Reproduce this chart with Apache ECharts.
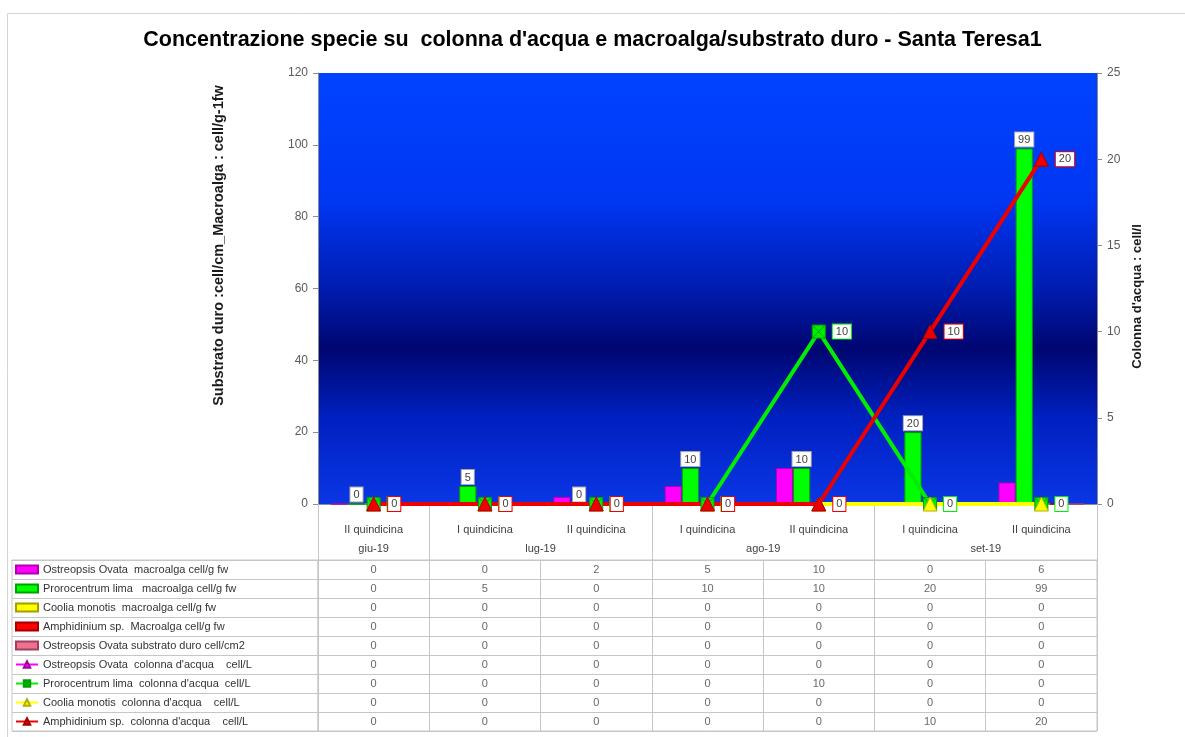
<!DOCTYPE html>
<html>
<head>
<meta charset="utf-8">
<title>Concentrazione specie - Santa Teresa1</title>
<script src="https://cdn.jsdelivr.net/npm/echarts@6.0.0/dist/echarts.min.js"></script>
<style>
  html, body { margin: 0; padding: 0; background: #fff; }
  #chart { width: 1185px; height: 737px; }
</style>
</head>
<body>
<div id="chart"></div>
<script>
// categorie (quindicine) e mesi
var periodi = ['II quindicina', 'I quindicina', 'II quindicina', 'I quindicina', 'II quindicina', 'I quindicina', 'II quindicina'];
var mesi = ['giu-19', 'lug-19', 'ago-19', 'set-19'];
var mesiSpan = [1, 2, 2, 2];

// nomi delle serie (righe della tabella)
var nomi = [
  'Ostreopsis Ovata  macroalga cell/g fw',
  'Prorocentrum lima   macroalga cell/g fw',
  'Coolia monotis  macroalga cell/g fw',
  'Amphidinium sp.  Macroalga cell/g fw',
  'Ostreopsis Ovata substrato duro cell/cm2',
  'Ostreopsis Ovata  colonna d\'acqua    cell/L',
  'Prorocentrum lima  colonna d\'acqua  cell/L',
  'Coolia monotis  colonna d\'acqua    cell/L',
  'Amphidinium sp.  colonna d\'acqua    cell/L'
];

// macroalga / substrato duro (asse sinistro)
var ostreopsisMacro = [0, 0, 2, 5, 10, 0, 6];
var prorocentrumMacro = [0, 5, 0, 10, 10, 20, 99];
var cooliaMacro = [0, 0, 0, 0, 0, 0, 0];
var amphidiniumMacro = [0, 0, 0, 0, 0, 0, 0];
var ostreopsisSubstrato = [0, 0, 0, 0, 0, 0, 0];

// colonna d'acqua (asse destro)
var ostreopsisColonna = [0, 0, 0, 0, 0, 0, 0];
var prorocentrumColonna = [0, 0, 0, 0, 10, 0, 0];
var cooliaColonna = [0, 0, 0, 0, 0, 0, 0];
var amphidiniumColonna = [0, 0, 0, 0, 0, 10, 20];

var righe = [ostreopsisMacro, prorocentrumMacro, cooliaMacro, amphidiniumMacro, ostreopsisSubstrato,
  ostreopsisColonna, prorocentrumColonna, cooliaColonna, amphidiniumColonna];

var font = 'Liberation Sans';
var grigio = '#c6c6c6';

// posizioni dei mesi sull'asse
var confini = [0], centri = [], acc = 0;
mesiSpan.forEach(function (s) { centri.push(acc + s / 2); acc += s; confini.push(acc); });

// celle della tabella
var celle = [];
righe.forEach(function (r, ri) {
  r.forEach(function (v, ci) { celle.push([ci, ri, v]); });
});

var chart = echarts.init(document.getElementById('chart'));

function barre(i, colore, bordo, etichette) {
  return {
    name: nomi[i], type: 'bar', xAxisIndex: 0, yAxisIndex: 0,
    data: righe[i], barGap: '0%', barCategoryGap: '23%',
    itemStyle: { color: colore, borderColor: bordo, borderWidth: 1 },
    label: etichette ? {
      show: true, position: 'top', distance: 2, color: '#404040', fontSize: 11, fontFamily: font,
      backgroundColor: '#fff', borderColor: '#a6a6a6', borderWidth: 1, padding: [2, 3, 1, 3]
    } : { show: false }
  };
}

function linea(i, colore, simbolo, size, bordo, etichette) {
  return {
    name: nomi[i], type: 'line', xAxisIndex: 0, yAxisIndex: 1,
    data: righe[i], symbol: simbolo, symbolSize: size,
    lineStyle: { color: colore, width: 4 },
    itemStyle: { color: colore, borderColor: bordo, borderWidth: 1 },
    label: etichette ? {
      show: true, position: 'right', distance: 7, color: '#404040', fontSize: 11, fontFamily: font,
      backgroundColor: '#fff', borderColor: colore, borderWidth: 1, padding: [2, 3, 1, 3]
    } : { show: false }
  };
}

var option = {
  animation: false,
  backgroundColor: '#fff',
  title: {
    text: 'Concentrazione specie su  colonna d\'acqua e macroalga/substrato duro - Santa Teresa1',
    left: 'center', top: 24,
    textStyle: { fontFamily: font, fontSize: 21.5, fontWeight: 'bold', color: '#000' }
  },
  graphic: [{
    type: 'rect', shape: { x: 7.5, y: 13.5, width: 1200, height: 800 },
    style: { fill: 'none', stroke: '#d4d4d4', lineWidth: 1 }, silent: true
  }],
  legend: {
    orient: 'vertical', left: 15, top: 560, padding: 0,
    itemWidth: 22, itemHeight: 8, itemGap: 0, selectedMode: false,
    textStyle: { fontFamily: font, fontSize: 11, color: '#333', lineHeight: 19 },
    data: nomi.map(function (n, i) { return i < 5 ? { name: n, icon: 'rect' } : n; })
  },
  grid: [
    {
      left: 318, right: 88, top: 73, height: 431, show: true, borderWidth: 0,
      backgroundColor: new echarts.graphic.LinearGradient(0, 0, 0, 1, [
        { offset: 0, color: '#0044ff' },
        { offset: 0.3, color: '#0036f2' },
        { offset: 0.5, color: '#001cb0' },
        { offset: 0.64, color: '#000670' },
        { offset: 0.8, color: '#0020c0' },
        { offset: 1, color: '#0a36e6' }
      ])
    },
    { left: 318, right: 88, top: 560, height: 171, show: true, borderColor: grigio, borderWidth: 1 },
    { left: 12, width: 306, top: 560, height: 171, show: true, borderColor: grigio, borderWidth: 1 }
  ],
  xAxis: [
    {
      type: 'category', gridIndex: 0, data: periodi, position: 'bottom',
      axisLine: { lineStyle: { color: '#8c8c8c' } },
      axisTick: { length: 36, interval: 0, lineStyle: { color: grigio } },
      axisLabel: { interval: 0, margin: 20, color: '#404040', fontSize: 11, fontFamily: font }
    },
    {
      type: 'value', gridIndex: 0, min: 0, max: 7, position: 'bottom',
      axisLine: { show: false }, splitLine: { show: false },
      axisTick: { show: true, customValues: confini, length: 56, lineStyle: { color: grigio } },
      axisLabel: {
        customValues: centri, margin: 39, color: '#404040', fontSize: 11, fontFamily: font,
        formatter: function (v) { return mesi[centri.indexOf(v)] || ''; }
      }
    },
    {
      type: 'category', gridIndex: 1, data: periodi,
      axisLine: { show: false }, axisTick: { show: false }, axisLabel: { show: false },
      splitLine: { show: true, interval: 0, lineStyle: { color: grigio } }
    },
    { type: 'value', gridIndex: 2, show: false }
  ],
  yAxis: [
    {
      type: 'value', gridIndex: 0, min: 0, max: 120, interval: 20, position: 'left',
      name: 'Substrato duro :cell/cm_Macroalga : cell/g-1fw',
      nameLocation: 'middle', nameRotate: 90, nameGap: 92,
      nameTextStyle: { fontFamily: font, fontSize: 14.5, fontWeight: 'bold', color: '#1a1a1a', padding: [0, 0, 0, 86] },
      axisLine: { show: true, lineStyle: { color: '#8c8c8c' } },
      axisTick: { show: true, length: 5, lineStyle: { color: '#8c8c8c' } },
      axisLabel: { margin: 10, color: '#595959', fontSize: 12, fontFamily: font },
      splitLine: { show: false }
    },
    {
      type: 'value', gridIndex: 0, min: 0, max: 25, interval: 5, position: 'right',
      name: 'Colonna d\'acqua : cell/l',
      nameLocation: 'middle', nameRotate: 90, nameGap: 33,
      nameTextStyle: { fontFamily: font, fontSize: 13, fontWeight: 'bold', color: '#1a1a1a', padding: [0, 16, 0, 0] },
      axisLine: { show: true, lineStyle: { color: '#8c8c8c' } },
      axisTick: { show: true, length: 5, lineStyle: { color: '#8c8c8c' } },
      axisLabel: { margin: 10, color: '#595959', fontSize: 12, fontFamily: font },
      splitLine: { show: false }
    },
    {
      type: 'category', gridIndex: 1, data: nomi, inverse: true,
      axisLine: { show: false }, axisTick: { show: false }, axisLabel: { show: false },
      splitLine: { show: true, interval: 0, lineStyle: { color: grigio } }
    },
    {
      type: 'category', gridIndex: 2, data: nomi, inverse: true,
      axisLine: { show: false }, axisTick: { show: false }, axisLabel: { show: false },
      splitLine: { show: true, interval: 0, lineStyle: { color: grigio } }
    }
  ],
  series: [
    barre(0, '#ff00ff', '#b000b0', false),
    barre(1, '#00ff00', '#00a000', true),
    barre(2, '#ffff00', '#a0a000', false),
    barre(3, '#ff0000', '#a00000', false),
    barre(4, '#f07090', '#a04060', false),
    linea(5, '#ff00ff', 'triangle', 12, '#a000a0', false),
    linea(6, '#00ee00', 'path://M0,0H10V10H0Z M0,0L10,10 M10,0L0,10', 13, '#00a000', true),
    linea(7, '#ffff00', 'triangle', 14, '#b0b000', false),
    linea(8, '#ee0000', 'triangle', 14, '#a00000', true),
    {
      type: 'scatter', xAxisIndex: 2, yAxisIndex: 2, data: celle, silent: true,
      symbolSize: 1, itemStyle: { color: 'transparent' },
      label: {
        show: true, position: 'inside', color: '#404040', fontSize: 11, fontFamily: font,
        formatter: function (p) { return p.value[2]; }
      }
    }
  ]
};

chart.setOption(option);
</script>
</body>
</html>
